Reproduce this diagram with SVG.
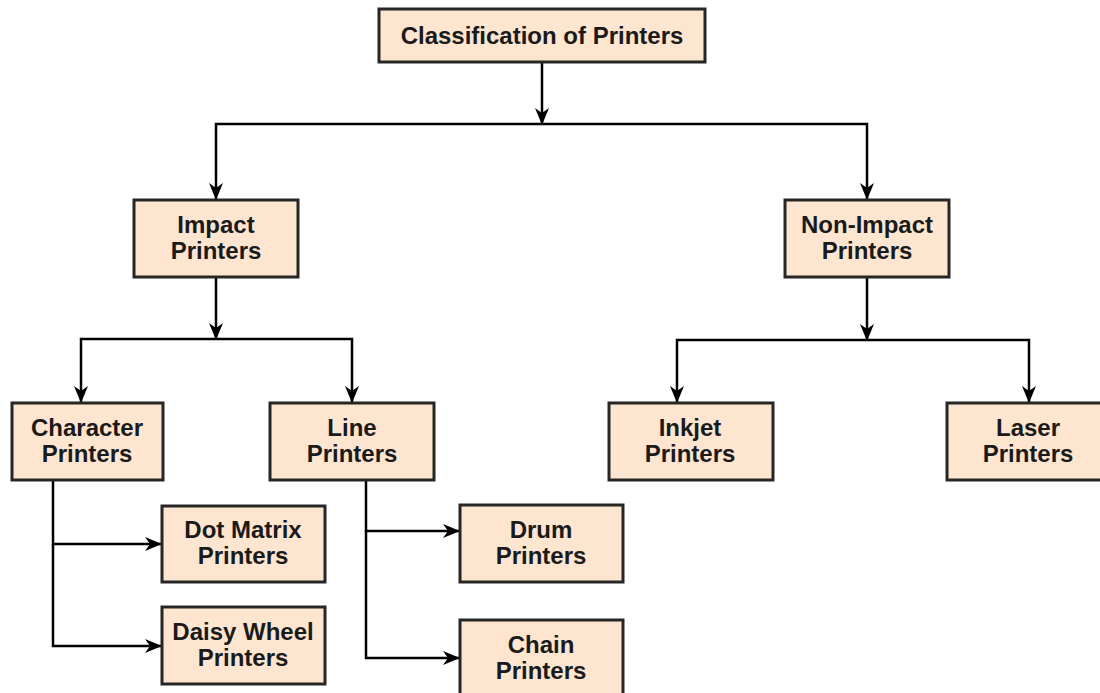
<svg xmlns="http://www.w3.org/2000/svg" width="1100" height="693" viewBox="0 0 1100 693">
<style>
.box{fill:#fde5cf;stroke:#262626;stroke-width:3}
.t{font-family:"Liberation Sans",Arial,sans-serif;font-weight:bold;font-size:24px;fill:#1a1a1a;text-anchor:middle}
.c{fill:none;stroke:#000;stroke-width:2.5}
</style>
<defs>
<marker id="arr" viewBox="0 0 17 14" refX="16" refY="7" markerWidth="17" markerHeight="14" markerUnits="userSpaceOnUse" orient="auto">
<path d="M0,0 L17,7 L0,14 L5,7 Z" fill="#000"/>
</marker>
</defs>
<rect width="1100" height="693" fill="#fff"/>
<g id="connectors">
<path class="c" d="M542 62 V124" marker-end="url(#arr)"/>
<path class="c" d="M542 124 H216 V199" marker-end="url(#arr)"/>
<path class="c" d="M542 124 H867 V199" marker-end="url(#arr)"/>
<path class="c" d="M216 277 V339" marker-end="url(#arr)"/>
<path class="c" d="M216 339 H81 V402" marker-end="url(#arr)"/>
<path class="c" d="M216 339 H352 V402" marker-end="url(#arr)"/>
<path class="c" d="M867 277 V340" marker-end="url(#arr)"/>
<path class="c" d="M867 340 H677 V402" marker-end="url(#arr)"/>
<path class="c" d="M867 340 H1029 V402" marker-end="url(#arr)"/>
<path class="c" d="M53 480 V544 H161" marker-end="url(#arr)"/>
<path class="c" d="M53 544 V646 H161" marker-end="url(#arr)"/>
<path class="c" d="M366 480 V531 H459" marker-end="url(#arr)"/>
<path class="c" d="M366 531 V658 H459" marker-end="url(#arr)"/>
</g>
<g id="root"><rect class="box" x="379" y="9" width="326" height="53"/><text class="t" x="542" y="44">Classification of Printers</text></g>
<g id="impact"><rect class="box" x="134" y="200" width="164" height="77"/><text class="t" x="216" y="233">Impact</text><text class="t" x="216" y="259">Printers</text></g>
<g id="nonimpact"><rect class="box" x="785" y="200" width="164" height="77"/><text class="t" x="867" y="233">Non-Impact</text><text class="t" x="867" y="259">Printers</text></g>
<g id="character"><rect class="box" x="12" y="403" width="151" height="77"/><text class="t" x="87" y="436">Character</text><text class="t" x="87" y="462">Printers</text></g>
<g id="line"><rect class="box" x="270" y="403" width="164" height="77"/><text class="t" x="352" y="436">Line</text><text class="t" x="352" y="462">Printers</text></g>
<g id="inkjet"><rect class="box" x="609" y="403" width="164" height="77"/><text class="t" x="690" y="436">Inkjet</text><text class="t" x="690" y="462">Printers</text></g>
<g id="laser"><rect class="box" x="947" y="403" width="164" height="77"/><text class="t" x="1028" y="436">Laser</text><text class="t" x="1028" y="462">Printers</text></g>
<g id="dotmatrix"><rect class="box" x="162" y="506" width="163" height="76"/><text class="t" x="243" y="538">Dot Matrix</text><text class="t" x="243" y="564">Printers</text></g>
<g id="daisywheel"><rect class="box" x="162" y="607" width="163" height="77"/><text class="t" x="243" y="640">Daisy Wheel</text><text class="t" x="243" y="666">Printers</text></g>
<g id="drum"><rect class="box" x="460" y="505" width="163" height="77"/><text class="t" x="541" y="538">Drum</text><text class="t" x="541" y="564">Printers</text></g>
<g id="chain"><rect class="box" x="460" y="620" width="163" height="80"/><text class="t" x="541" y="653">Chain</text><text class="t" x="541" y="679">Printers</text></g>
</svg>
